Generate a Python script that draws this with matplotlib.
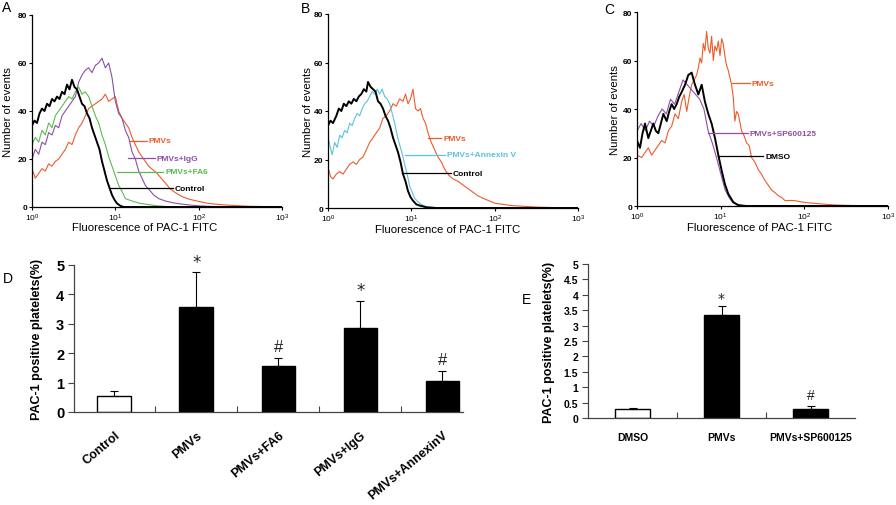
import numpy as np
import matplotlib
matplotlib.use("Agg")
import matplotlib.pyplot as plt
from matplotlib.ticker import NullLocator, FixedLocator

plt.rcParams['font.family'] = ['Liberation Sans', 'DejaVu Sans']

# ---------------- Panel A (log10 fluorescence, events) ----------------
A_ctrl_d = [0, .03, .06, .09, .12, .15, .18, .21, .24, .27, .30, .33, .36, .39, .42, .45, .48, .51, .54, .57,
            .60, .63, .66, .69, .72, .75, .78, .81, .84, .87, .90, .93, .96, .99, 1.02, 1.06, 1.10, 1.3, 3.0]
A_ctrl_v = [34, 36, 35, 39, 41, 40, 43, 42, 45, 44, 46, 45, 48, 47, 51, 49, 53, 50, 49, 46,
            43, 42, 39, 37, 33, 30, 27, 24, 19, 15, 11, 8, 5, 3, 1.5, 0.5, 0, 0, 0]
A_fa6_d = [0, .04, .08, .12, .16, .20, .24, .28, .32, .36, .40, .44, .48, .52, .56, .60, .64, .68, .72, .76,
           .80, .84, .88, .92, .96, 1.0, 1.04, 1.08, 1.12, 1.2, 1.3, 1.4, 1.5, 1.7, 3.0]
A_fa6_v = [26, 29, 27, 32, 30, 35, 33, 38, 40, 42, 44, 46, 45, 48, 50, 47, 48, 46, 42, 38,
           35, 30, 26, 21, 17, 13, 9, 6.5, 3.5, 2.5, 1.5, 1, 0.5, 0, 0]
A_igg_d = [0, .04, .08, .12, .16, .20, .24, .28, .32, .36, .40, .44, .48, .52, .56, .60, .64, .68, .72, .76,
           .80, .84, .88, .92, .96, 1.00, 1.04, 1.08, 1.12, 1.16, 1.20, 1.24, 1.28, 1.32, 1.36, 1.40, 1.46, 1.52,
           1.60, 1.70, 1.80, 1.90, 2.0, 2.2, 3.0]
A_igg_v = [20, 24, 22, 27, 26, 31, 30, 34, 33, 38, 40, 42, 44, 46, 52, 55, 57, 58, 56, 59,
           60, 62, 58, 60, 54, 44, 39, 37, 32, 29, 23, 20, 15, 12, 9, 7.5, 5, 3.5,
           2.5, 1.7, 1.2, 0.8, 0.5, 0.2, 0]
A_pmv_d = [0, .04, .08, .12, .16, .20, .24, .28, .32, .36, .40, .44, .48, .52, .56, .60, .64, .68, .72, .76,
           .80, .84, .88, .92, .96, 1.00, 1.04, 1.08, 1.12, 1.16, 1.20, 1.24, 1.28, 1.32, 1.36, 1.40, 1.45, 1.50,
           1.55, 1.60, 1.66, 1.72, 1.78, 1.86, 1.94, 2.02, 2.10, 2.2, 2.34, 2.5, 2.62, 2.8, 3.0]
A_pmv_v = [16, 12, 14, 16, 15, 18, 17, 19, 20, 22, 24, 27, 26, 30, 33, 35, 38, 41, 42, 43,
           44, 45, 47, 44, 45, 46, 40, 37, 35, 33, 29, 26, 23, 21, 19, 17, 15.5, 14,
           12, 10, 7.5, 6, 4.7, 3.5, 2.8, 2.2, 1.6, 1.2, 0.8, 0.5, 0.3, 0.2, 0]

# ---------------- Panel B ----------------
B_ctrl_d = [0, .03, .06, .10, .13, .16, .19, .22, .25, .28, .31, .34, .37, .40, .43, .46, .48, .51, .54, .57,
            .60, .63, .66, .69, .72, .75, .78, .81, .84, .87, .90, .93, .96, .99, 1.02, 1.06, 1.10, 1.18, 1.3, 3.0]
B_ctrl_v = [34, 36, 35, 38, 41, 40, 43, 42, 44, 43, 45, 44, 46, 47, 49, 48, 52, 50, 49, 48,
            44, 43, 41, 38, 36, 33, 29, 26, 23, 19, 14, 11, 7, 4.5, 3, 1.5, 1, 0.3, 0, 0]
B_anx_d = [0, .02, .05, .08, .11, .14, .17, .20, .23, .26, .29, .32, .35, .38, .41, .44, .47, .50, .53, .56,
           .59, .62, .65, .68, .71, .74, .77, .80, .83, .86, .89, .92, .95, .98, 1.01, 1.04, 1.08, 1.12, 1.18,
           1.3, 3.0]
B_anx_v = [30, 26, 22, 27, 25, 30, 29, 32, 31, 35, 34, 37, 39, 38, 41, 43, 44, 46, 48, 47,
           49, 47, 49, 46, 45, 43, 39, 35, 30, 26, 22.5, 18, 14, 9, 6.5, 4, 2.5, 1.5, 0.5,
           0, 0]
B_pmv_d = [0, .03, .06, .10, .14, .18, .22, .26, .30, .34, .38, .42, .46, .50, .54, .58, .62, .66, .70, .74,
           .78, .82, .86, .90, .93, .96, .99, 1.02, 1.05, 1.08, 1.11, 1.14, 1.17, 1.20, 1.24, 1.28, 1.32, 1.36,
           1.40, 1.45, 1.50, 1.56, 1.62, 1.68, 1.74, 1.80, 1.86, 1.93, 2.0, 2.1, 2.2, 2.3, 2.4, 2.5, 2.6, 2.8, 3.0]
B_pmv_v = [17, 13, 12, 14, 15, 14, 16, 18, 19, 18, 20, 21, 24, 27, 29, 31, 33, 37, 38, 40,
           43, 42, 45, 44, 47, 43, 45, 49, 41, 40, 41, 37, 35, 31, 27, 24, 21, 19,
           16, 13.5, 12, 11, 9.5, 8, 6.5, 5, 4, 3, 2, 1.5, 1, 0.8, 0.6, 0.4, 0.3, 0.1, 0]

# ---------------- Panel C ----------------
C_dmso_d = [0, .036, .066, .096, .135, .165, .195, .225, .255, .285, .315, .355, .385, .414, .444, .474, .504,
            .534, .574, .613, .653, .693, .733, .773, .812, .852, .892, .932, .972, 1.012, 1.051, 1.091, 1.151,
            1.21, 1.3, 3.0]
C_dmso_v = [27, 24, 30, 34, 28, 31, 34, 31, 30, 34, 38, 35, 39, 42, 40, 42, 45,
            47, 50, 54, 55, 50, 46, 50, 43, 38, 34, 28, 21, 14.6, 9, 5, 1.6,
            0.3, 0, 0]
C_sp_d = [0, .05, .10, .15, .20, .25, .30, .35, .40, .45, .50, .55, .60, .65, .70, .75, .80, .85, .90, .95,
          1.0, 1.05, 1.10, 1.15, 1.25, 1.4, 3.0]
C_sp_v = [31, 34, 31, 35, 33, 37, 40, 38, 44, 42, 47, 52, 50, 48, 46, 44, 40, 31, 26, 20,
          13.5, 7, 3.5, 1.2, 0.3, 0, 0]
C_pmv_d = [0, .056, .095, .135, .175, .215, .255, .295, .335, .375, .415, .454, .494, .534, .564, .594, .624,
           .653, .683, .713, .733, .753, .773, .792, .812, .832, .852, .872, .892, .912, .932, .952, .972, .992,
           1.012, 1.03, 1.05, 1.07, 1.09, 1.11, 1.13, 1.15, 1.17, 1.19, 1.21, 1.25, 1.28, 1.31, 1.34, 1.37,
           1.41, 1.45, 1.49, 1.53, 1.57, 1.61, 1.65, 1.69, 1.73, 1.77, 1.83, 1.89, 1.95, 2.02, 2.09, 2.19,
           2.29, 2.39, 2.49, 2.6, 2.8, 3.0]
C_pmv_v = [21, 20, 22, 24, 21, 23, 25, 27, 26, 31, 33, 38, 36, 43, 46, 39, 45,
           50, 52, 54, 57, 61, 59, 67, 64, 72, 65, 63, 70, 60, 66, 64, 68, 62,
           69, 67, 62, 58, 56, 53, 50, 45, 35, 39, 38, 31, 29, 26, 25, 20,
           18, 15, 13, 10.5, 8.5, 6.5, 5.5, 4.2, 3.5, 2.2, 2.3, 2.2, 1.8, 1.4, 1.2, 0.9,
           0.6, 0.4, 0.3, 0.2, 0.1, 0]

# ---------------- Panel D ----------------
D_cats = ['Control', 'PMVs', 'PMVs+FA6', 'PMVs+IgG', 'PMVs+AnnexinV']
D_vals = [0.55, 3.58, 1.58, 2.86, 1.05]
D_errs = [0.15, 1.18, 0.24, 0.93, 0.33]
D_marks = ['', '*', '#', '*', '#']
D_fill = ['white', 'black', 'black', 'black', 'black']

# ---------------- Panel E ----------------
E_cats = ['DMSO', 'PMVs', 'PMVs+SP600125']
E_vals = [0.29, 3.36, 0.29]
E_errs = [0.02, 0.27, 0.09]
E_marks = ['', '*', '#']
E_fill = ['white', 'black', 'black']

RED = '#EE5A2C'
PURPLE = '#8C4FA6'
GREEN = '#5CBB50'
CYAN = '#5BC2DA'
BLACK = '#000000'

W, H = 896, 506
fig = plt.figure(figsize=(W / 100, H / 100), dpi=100)


def box(l, t, r, b):
    return [l / W, 1 - b / H, (r - l) / W, (b - t) / H]


def hist_axes(ax, xlab_x=0.5, ylab_x=-0.07):
    ax.set_xscale('log')
    ax.set_xlim(1, 1000)
    ax.set_ylim(0, 80)
    ax.set_yticks([0, 20, 40, 60, 80])
    ax.xaxis.set_minor_locator(NullLocator())
    for s in ['top', 'right']:
        ax.spines[s].set_visible(False)
    for s in ['left', 'bottom']:
        ax.spines[s].set_linewidth(0.9)
    ax.tick_params(labelsize=6, length=2.5, width=0.8, pad=1)
    for t in ax.get_yticklabels():
        t.set_fontweight('bold')
    ax.set_xlabel('Fluorescence of PAC-1 FITC', fontsize=8.2)
    ax.xaxis.set_label_coords(xlab_x, -0.08)
    ax.set_ylabel('Number of events', fontsize=8.2)
    ax.yaxis.set_label_coords(ylab_x, 0.5)


def curve(ax, d, v, color, lw=0.8):
    ax.plot(10 ** np.array(d), v, color=color, lw=lw)


def leader(ax, d0, d1, y, text, color):
    ax.plot([10 ** d0, 10 ** d1], [y, y], color=color, lw=0.9)
    ax.text(10 ** (d1 + 0.02), y, text, color=color, fontsize=6, fontweight='bold', va='center', ha='left')


axA = fig.add_axes(box(32, 16, 282, 208))
hist_axes(axA, 0.45, -0.074)
curve(axA, A_pmv_d, A_pmv_v, RED)
curve(axA, A_igg_d, A_igg_v, PURPLE)
curve(axA, A_fa6_d, A_fa6_v, GREEN)
curve(axA, A_ctrl_d, A_ctrl_v, BLACK, lw=1.4)
leader(axA, 1.17, 1.38, 27.6, 'PMVs', RED)
leader(axA, 1.155, 1.476, 20.3, 'PMVs+IgG', PURPLE)
leader(axA, 1.016, 1.576, 14.7, 'PMVs+FA6', GREEN)
leader(axA, 0.928, 1.696, 7.9, 'Control', BLACK)

axB = fig.add_axes(box(328, 15, 578, 209))
hist_axes(axB, 0.48, -0.06)
curve(axB, B_pmv_d, B_pmv_v, RED)
curve(axB, B_anx_d, B_anx_v, CYAN)
curve(axB, B_ctrl_d, B_ctrl_v, BLACK, lw=1.4)
leader(axB, 1.2, 1.36, 28.7, 'PMVs', RED)
leader(axB, 0.924, 1.404, 21.9, 'PMVs+Annexin V', CYAN)
leader(axB, 0.89, 1.47, 14.3, 'Control', BLACK)

axC = fig.add_axes(box(637, 13, 888, 207))
hist_axes(axC, 0.49, -0.068)
curve(axC, C_pmv_d, C_pmv_v, RED)
curve(axC, C_sp_d, C_sp_v, PURPLE)
curve(axC, C_dmso_d, C_dmso_v, BLACK, lw=1.4)
leader(axC, 1.13, 1.35, 50.7, 'PMVs', RED)
leader(axC, 0.852, 1.33, 30.0, 'PMVs+SP600125', PURPLE)
leader(axC, 0.97, 1.51, 20.5, 'DMSO', BLACK)

fig.text(2 / W, 1 - 8 / H, 'A', fontsize=10, va='center', ha='left')
fig.text(301 / W, 1 - 9 / H, 'B', fontsize=10, va='center', ha='left')
fig.text(604 / W, 1 - 10 / H, 'C', fontsize=10, va='center', ha='left')
fig.text(3 / W, 1 - 279 / H, 'D', fontsize=10, va='center', ha='left')
fig.text(522 / W, 1 - 300 / H, 'E', fontsize=10, va='center', ha='left')


def bar_axes(ax, cats, vals, errs, marks, fill, width, ytick_vals, ytick_labels, tick_fs, lab_fs, mark_fs):
    x = np.arange(len(cats))
    ax.bar(x, vals, width=width, color=fill, edgecolor='black', linewidth=1.0, zorder=2)
    ax.errorbar(x, vals, yerr=[np.zeros(len(errs)), errs], fmt='none', ecolor='black',
                elinewidth=0.8, capsize=3, capthick=0.8, zorder=3)
    for xi, v, e, m in zip(x, vals, errs, marks):
        if m:
            ax.annotate(m, (xi, v + e), xytext=(0, 3 if m == '#' else 1), textcoords='offset points',
                        ha='center', va='bottom', fontsize=mark_fs, color='#222222',
                        family='DejaVu Sans' if m == '*' else None)
    ax.set_ylim(0, 5)
    ax.yaxis.set_major_locator(FixedLocator(ytick_vals))
    ax.set_yticklabels(ytick_labels, fontsize=tick_fs, fontweight='bold')
    ax.set_xticks(x)
    ax.xaxis.set_minor_locator(FixedLocator(x[:-1] + 0.5))
    for s in ['top', 'right']:
        ax.spines[s].set_visible(False)
    for s in ['left', 'bottom']:
        ax.spines[s].set_linewidth(0.9)
        ax.spines[s].set_color('#444444')
    ax.tick_params(axis='y', length=4, width=0.8, color='#444444', pad=3)
    ax.tick_params(axis='x', which='major', length=0)
    ax.tick_params(axis='x', which='minor', direction='in', length=4, width=0.8, color='#444444')
    ax.set_ylabel('PAC-1 positive platelets(%)', fontsize=lab_fs, fontweight='bold')


axD = fig.add_axes(box(74, 266, 463, 413))
bar_axes(axD, D_cats, D_vals, D_errs, D_marks, D_fill, 0.41, [0, 1, 2, 3, 4, 5],
         ['0', '1', '2', '3', '4', '5'], 10.5, 9, 12)
axD.set_xlim(-0.49, 4.25)
axD.set_xticklabels(D_cats, rotation=40, ha='right', va='top', rotation_mode='anchor',
                    fontsize=9, fontweight='bold')
axD.tick_params(axis='x', which='major', pad=12)
axD.yaxis.set_label_coords(-0.08, 0.5)

E_ticks = [0, 0.5, 1, 1.5, 2, 2.5, 3, 3.5, 4, 4.5, 5]
E_ticklabels = ['0', '0.5', '1', '1.5', '2', '2.5', '3', '3.5', '4', '4.5', '5']
axE = fig.add_axes(box(588, 265, 855, 419))
bar_axes(axE, E_cats, E_vals, E_errs, E_marks, E_fill, 0.39, E_ticks, E_ticklabels,
         7.5, 9, 10)
axE.set_xlim(-0.5, 2.5)
axE.set_xticklabels(E_cats, fontsize=7.5, fontweight='bold')
axE.tick_params(axis='x', which='major', pad=10)
axE.yaxis.set_label_coords(-0.125, 0.5)

fig.savefig('out.png', dpi=100)
